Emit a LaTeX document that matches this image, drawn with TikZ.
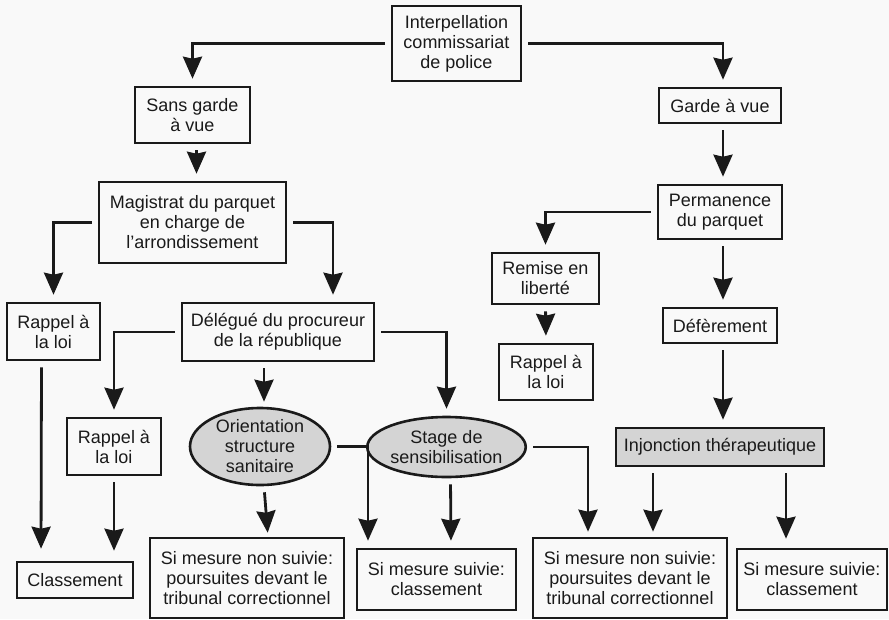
\documentclass[tikz,border=0pt]{standalone}
\usepackage{fontspec}
\setmainfont{Liberation Sans}
\usetikzlibrary{arrows.meta,shapes.geometric,calc}
\definecolor{bg}{HTML}{F9F9F9}
\definecolor{shade}{HTML}{D4D4D4}
\definecolor{ink}{HTML}{1A1A1A}
\begin{document}
\begin{tikzpicture}[x=1pt,y=-1pt,
  box/.style={draw=ink, line width=2.6pt, align=center, inner sep=0pt,
    font=\fontsize{18}{20}\selectfont, text=ink},
  oval/.style={box, ellipse, fill=shade},
  arr/.style={draw=ink, line width=2.8pt,
    -{Stealth[length=22pt,width=19pt,inset=2pt]},
    shorten <=6pt, shorten >=7pt}]
\fill[bg] (0,0) rectangle (889,619);
\useasboundingbox (0,0) rectangle (889,619);

\node[box, minimum width=129pt, minimum height=75pt] (inter) at (456.5,43.5) {Interpellation\\commissariat\\de police};
\node[box, minimum width=115pt, minimum height=56pt] (sans) at (192.5,115) {Sans garde\\à vue};
\node[box, minimum width=187pt, minimum height=81pt] (mag) at (192.5,222.5) {Magistrat du parquet\\en charge de\\l’arrondissement};
\node[box, minimum width=93pt, minimum height=57pt] (rap1) at (53.5,331.5) {Rappel à\\la loi};
\node[box, minimum width=116pt, minimum height=36pt] (cls) at (75,580) {Classement};
\node[box, minimum width=192pt, minimum height=58pt] (del) at (278,332) {Délégué du procureur\\de la république};
\node[box, minimum width=94pt, minimum height=57pt] (rap2) at (114,446.5) {Rappel à\\la loi};
\node[oval, minimum width=140pt, minimum height=77pt] (ori) at (260,446.5) {Orientation\\structure\\sanitaire};
\node[box, minimum width=194pt, minimum height=80pt] (smn1) at (247,578) {Si mesure non suivie:\\poursuites devant le\\tribunal correctionnel};
\node[oval, minimum width=143pt, minimum height=60pt] (stage) at (446.5,447) {Stage de\\sensibilisation};
\node[box, minimum width=159pt, minimum height=61pt] (sms1) at (436.5,579.5) {Si mesure suivie:\\classement};
\node[box, minimum width=194pt, minimum height=80pt] (smn2) at (630,578) {Si mesure non suivie:\\poursuites devant le\\tribunal correctionnel};
\node[box, minimum width=122pt, minimum height=35pt] (garde) at (720,105.5) {Garde à vue};
\node[box, minimum width=124pt, minimum height=54pt] (perm) at (720,212) {Permanence\\du parquet};
\node[box, minimum width=107pt, minimum height=51pt] (rem) at (545.5,278.5) {Remise en\\liberté};
\node[box, minimum width=94pt, minimum height=56pt] (rap3) at (546,372) {Rappel à\\la loi};
\node[box, minimum width=114pt, minimum height=35pt] (def) at (720,325.5) {Défèrement};
\node[box, fill=shade, minimum width=208pt, minimum height=38pt] (inj) at (720,447) {Injonction thérapeutique};
\node[box, minimum width=150pt, minimum height=61pt] (sms2) at (812,579.5) {Si mesure suivie:\\classement};

\draw[arr] (inter.west) -| (sans.north);
\draw[arr] (inter.east) -| ([xshift=3pt]garde.north);
\draw[arr] ([xshift=4pt]sans.south) -- ([xshift=4pt]mag.north);
\draw[arr] (mag.west) -| (rap1.north);
\draw[arr] (mag.east) -| ([xshift=55pt]del.north);
\draw[arr, shorten >=12pt] ([xshift=-12pt]rap1.south) -- ([xshift=-34pt]cls.north);
\draw[arr, shorten >=10pt] (rap2.south) -- (rap2.south |- cls.north);
\draw[arr] (del.west) -| (rap2.north);
\draw[arr, shorten >=5pt] ([xshift=4pt]del.south -| ori.north) -- ([xshift=4pt]ori.north);
\draw[arr] (del.east) -| (stage.north);
\draw[arr, shorten >=4pt] ([xshift=4pt]ori.south) -- ([xshift=21pt]smn1.north);
\draw[arr] (ori.east) -| ([xshift=-68.5pt]sms1.north);
\draw[arr] ([xshift=4pt]stage.south) -- ([xshift=14.5pt]sms1.north);
\draw[arr, shorten >=5pt] (stage.east) -| ([xshift=-42pt]smn2.north);
\draw[arr] ([xshift=3pt]garde.south) -- ([xshift=3pt]perm.north);
\draw[arr] (perm.west) -| (rem.north);
\draw[arr] ([xshift=3pt]perm.south) -- ([xshift=3pt]def.north);
\draw[arr] (rem.south) -- (rap3.north);
\draw[arr] ([xshift=3pt]def.south) -- ([xshift=3pt]inj.north);
\draw[arr, shorten >=5pt] ([xshift=-67pt]inj.south) -- ([xshift=23pt]smn2.north);
\draw[arr, shorten >=9pt] ([xshift=66pt]inj.south) -- ([xshift=-26pt]sms2.north);
\end{tikzpicture}
\end{document}
